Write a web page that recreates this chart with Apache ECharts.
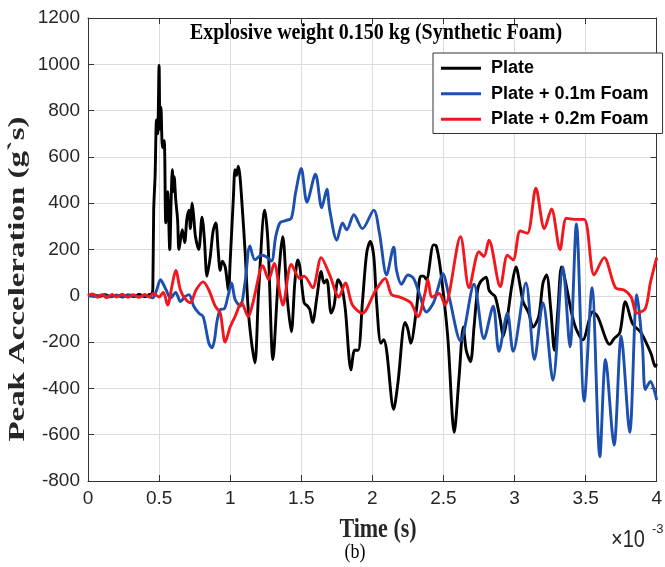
<!DOCTYPE html>
<html><head><meta charset="utf-8">
<script src="https://cdn.jsdelivr.net/npm/echarts@6/dist/echarts.min.js"></script>
<style>html,body{margin:0;padding:0;background:#fff}#c{width:665px;height:567px}</style>
</head><body><div id="c"></div>
<script>
const seriesNames = ['Plate', 'Plate + 0.1m Foam', 'Plate + 0.2m Foam'];
const seriesColors = ['#000000', '#1c4fae', '#f2161d'];
// [time (x10^-3 s), peak acceleration (g's)]
const plate = [[0,0],[0.04,4],[0.08,-3],[0.12,5],[0.16,-4],[0.2,3],[0.24,-5],[0.28,4],[0.32,-3],[0.36,6],[0.4,-4],[0.43,5],[0.45,10],[0.456,30],[0.462,370],[0.472,520],[0.482,760],[0.49,700],[0.5,995],[0.506,720],[0.513,815],[0.524,640],[0.536,670],[0.547,315],[0.56,450],[0.575,200],[0.585,420],[0.593,545],[0.6,450],[0.606,515],[0.617,415],[0.63,330],[0.64,200],[0.663,285],[0.68,230],[0.695,330],[0.71,370],[0.72,290],[0.733,400],[0.745,330],[0.756,255],[0.779,200],[0.802,340],[0.818,250],[0.837,85],[0.86,170],[0.88,280],[0.899,315],[0.915,200],[0.93,110],[0.945,150],[0.965,125],[0.988,25],[1.0,150],[1.023,430],[1.034,545],[1.045,520],[1.057,560],[1.069,515],[1.085,380],[1.104,200],[1.127,-60],[1.15,-200],[1.174,-290],[1.2,20],[1.243,370],[1.266,230],[1.301,-275],[1.336,50],[1.37,255],[1.4,0],[1.43,-155],[1.455,60],[1.475,155],[1.49,125],[1.52,-30],[1.545,-45],[1.56,-60],[1.58,-115],[1.61,-5],[1.64,105],[1.66,55],[1.68,70],[1.71,-75],[1.73,-45],[1.76,70],[1.785,40],[1.81,-60],[1.85,-320],[1.875,-235],[1.9,-235],[1.93,-30],[1.96,185],[1.985,235],[2.01,170],[2.03,-30],[2.06,-205],[2.08,-190],[2.1,-235],[2.15,-490],[2.18,-375],[2.23,-115],[2.25,-145],[2.27,-205],[2.31,-60],[2.34,85],[2.36,85],[2.38,70],[2.43,220],[2.45,215],[2.48,110],[2.53,-175],[2.576,-590],[2.61,-350],[2.64,-135],[2.66,-235],[2.69,-285],[2.715,-135],[2.74,25],[2.76,60],[2.8,80],[2.82,25],[2.84,10],[2.865,-5],[2.9,-105],[2.92,-175],[2.95,-90],[2.98,40],[3.01,125],[3.04,40],[3.06,-25],[3.1,-75],[3.13,-135],[3.17,-90],[3.2,55],[3.225,90],[3.255,-60],[3.28,-235],[3.305,-60],[3.33,125],[3.35,85],[3.42,-120],[3.48,-190],[3.55,-70],[3.585,-90],[3.67,-210],[3.7,-185],[3.74,-160],[3.78,-25],[3.83,-120],[3.89,-160],[3.96,-250],[3.99,-305],[4.0,-295]];
const foam01 = [[0,0],[0.05,-3],[0.1,4],[0.15,-4],[0.2,3],[0.25,-3],[0.3,4],[0.35,-4],[0.4,2],[0.455,-9],[0.48,20],[0.51,70],[0.53,50],[0.55,25],[0.58,-10],[0.617,15],[0.65,-25],[0.68,-5],[0.71,5],[0.744,-45],[0.78,-75],[0.81,-90],[0.85,-205],[0.872,-225],[0.89,-190],[0.906,-115],[0.93,-60],[0.96,-55],[0.985,0],[1.01,55],[1.034,-15],[1.07,-45],[1.104,55],[1.139,215],[1.174,155],[1.22,175],[1.25,170],[1.29,150],[1.32,255],[1.35,315],[1.39,325],[1.43,335],[1.46,445],[1.5,550],[1.54,405],[1.6,525],[1.644,380],[1.68,460],[1.7,370],[1.75,240],[1.79,315],[1.82,285],[1.87,350],[1.93,290],[2.01,370],[2.05,270],[2.1,90],[2.15,210],[2.17,110],[2.205,50],[2.25,90],[2.29,75],[2.33,10],[2.38,-70],[2.43,-30],[2.46,30],[2.495,95],[2.54,-5],[2.62,-195],[2.715,50],[2.785,-185],[2.85,-45],[2.89,-240],[2.95,-75],[2.99,-240],[3.08,55],[3.14,-275],[3.2,-30],[3.27,-365],[3.34,125],[3.39,-220],[3.435,310],[3.49,-455],[3.545,35],[3.6,-695],[3.64,-275],[3.7,-645],[3.75,-175],[3.81,-590],[3.86,5],[3.9,-220],[3.92,-405],[3.955,-370],[4.0,-450]];
const foam02 = [[0,0],[0.03,8],[0.07,-6],[0.1,5],[0.13,-8],[0.17,6],[0.2,-5],[0.24,7],[0.28,-6],[0.32,5],[0.36,-7],[0.4,6],[0.43,-5],[0.46,10],[0.5,-5],[0.53,15],[0.56,-40],[0.59,40],[0.617,110],[0.65,25],[0.68,-10],[0.72,-30],[0.76,25],[0.81,60],[0.85,25],[0.895,-45],[0.93,-75],[0.965,-200],[1.0,-135],[1.034,-90],[1.08,-30],[1.127,-90],[1.16,-30],[1.23,130],[1.27,70],[1.31,140],[1.35,10],[1.37,-40],[1.43,135],[1.49,75],[1.52,85],[1.58,35],[1.64,165],[1.7,90],[1.765,-5],[1.81,55],[1.86,-40],[1.93,-75],[2.02,20],[2.09,75],[2.135,5],[2.19,-5],[2.27,-30],[2.32,-90],[2.37,10],[2.39,70],[2.42,-5],[2.47,10],[2.51,-40],[2.62,255],[2.68,35],[2.75,190],[2.785,170],[2.82,240],[2.9,40],[2.95,175],[2.99,155],[3.04,280],[3.09,270],[3.15,465],[3.21,290],[3.26,375],[3.32,200],[3.365,335],[3.42,330],[3.49,330],[3.56,90],[3.63,165],[3.71,35],[3.77,25],[3.82,-5],[3.86,-75],[3.92,-55],[3.955,55],[4.0,165]];
const xMin = 0, xMax = 4, xStep = 0.5;
const yMin = -800, yMax = 1200, yStep = 200;

const chart = echarts.init(document.getElementById('c'), null, {renderer: 'canvas'});
const axisCol = '#333333';
const tickFont = {color: '#262626', fontSize: 19, fontFamily: 'Liberation Sans'};
const serif = 'Liberation Serif';
const mainX = {
  type: 'value', min: xMin, max: xMax, interval: xStep,
  axisLine: {show: true, onZero: false, lineStyle: {color: axisCol, width: 1}},
  axisTick: {show: true, inside: true, length: 6, lineStyle: {color: axisCol}},
  axisLabel: Object.assign({margin: 8, showMinLabel: true, showMaxLabel: true, formatter: v => String(v)}, tickFont),
  splitLine: {show: true, lineStyle: {color: '#dcdcdc', width: 1}}
};
const mainY = {
  type: 'value', min: yMin, max: yMax, interval: yStep,
  axisLine: {show: true, onZero: false, lineStyle: {color: axisCol, width: 1}},
  axisTick: {show: true, inside: true, length: 6, lineStyle: {color: axisCol}},
  axisLabel: Object.assign({margin: 8, showMinLabel: true, showMaxLabel: true, formatter: v => String(v)}, tickFont),
  splitLine: {show: true, lineStyle: {color: '#dcdcdc', width: 1}}
};
const dataSets = [plate, foam01, foam02];
chart.setOption({
  animation: false,
  backgroundColor: '#ffffff',
  grid: {left: 88, right: 2, top: 18, bottom: 86, containLabel: false},
  xAxis: [mainX, {
    type: 'value', position: 'top', min: xMin, max: xMax, interval: xStep,
    axisLine: {show: true, onZero: false, lineStyle: {color: axisCol}},
    axisTick: {show: true, inside: true, length: 6, lineStyle: {color: axisCol}},
    axisLabel: {show: false}, splitLine: {show: false}
  }],
  yAxis: [mainY, {
    type: 'value', position: 'right', min: yMin, max: yMax, interval: yStep,
    axisLine: {show: true, onZero: false, lineStyle: {color: axisCol}},
    axisTick: {show: true, inside: true, length: 6, lineStyle: {color: axisCol}},
    axisLabel: {show: false}, splitLine: {show: false}
  }],
  legend: {
    orient: 'vertical', left: 433, top: 53,
    padding: [6, 14, 5, 8], itemGap: 7, itemWidth: 40, itemHeight: 3,
    icon: 'rect',
    backgroundColor: '#ffffff', borderColor: '#333333', borderWidth: 1,
    textStyle: {fontFamily: 'Liberation Sans', fontWeight: 'bold', fontSize: 18, color: '#000', padding: [0, 0, 0, 5], lineHeight: 18.5},
    data: seriesNames
  },
  series: seriesNames.map((n, i) => ({
    name: n, type: 'line', xAxisIndex: 0, yAxisIndex: 0,
    data: dataSets[i], symbol: 'none', smooth: 0.3,
    lineStyle: {color: seriesColors[i], width: 2.9},
    itemStyle: {color: seriesColors[i]}
  })),
  graphic: [
    {type: 'text', x: 376, y: 33, z: 10, scaleY: 1.2, style: {text: 'Explosive weight 0.150 kg (Synthetic Foam)', fontFamily: serif, fontWeight: 'bold', fontSize: 20, fill: '#000', align: 'center', verticalAlign: 'middle'}},
    {type: 'text', x: 18, y: 279, rotation: Math.PI / 2, scaleX: 1.43, style: {text: 'Peak Acceleration (g`s)', fontFamily: serif, fontWeight: 'bold', fontSize: 23, fill: '#262626', align: 'center', verticalAlign: 'middle'}},
    {type: 'text', x: 378, y: 530, scaleY: 1.2, style: {text: 'Time (s)', fontFamily: serif, fontWeight: 'bold', fontSize: 22, fill: '#262626', align: 'center', verticalAlign: 'middle'}},
    {type: 'text', x: 611, y: 540, scaleY: 1.2, style: {text: '×10', fontFamily: 'Liberation Sans', fontSize: 20, fill: '#262626', align: 'left', verticalAlign: 'middle'}},
    {type: 'text', x: 652, y: 529, style: {text: '-3', fontFamily: 'Liberation Sans', fontSize: 13, fill: '#262626', align: 'left', verticalAlign: 'middle'}},
    {type: 'text', x: 355, y: 553, scaleY: 1.15, style: {text: '(b)', fontFamily: serif, fontSize: 18, fill: '#000', align: 'center', verticalAlign: 'middle'}}
  ]
});
</script>
</body></html>
